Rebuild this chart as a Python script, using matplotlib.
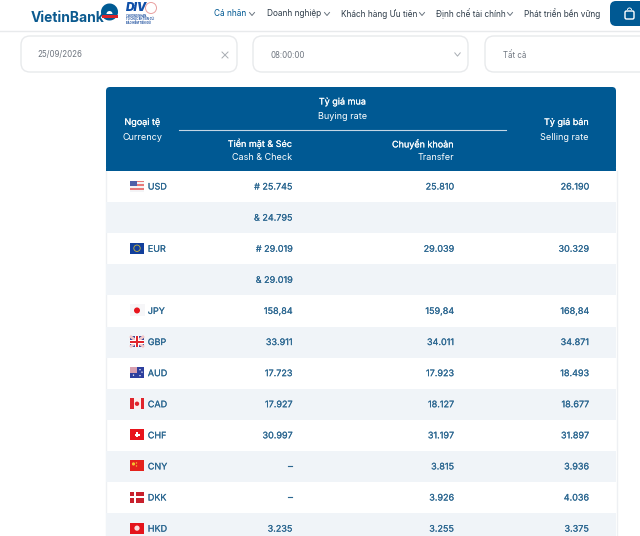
import matplotlib
matplotlib.use("Agg")
import matplotlib.pyplot as plt
import matplotlib.patheffects as pe
from matplotlib.patches import FancyBboxPatch, Rectangle, Circle, Wedge

plt.rcParams['font.family'] = ['Inter', 'DejaVu Sans']

# ---- data ----
currencies = ["USD", "", "EUR", "", "JPY", "GBP", "AUD", "CAD", "CHF", "CNY", "DKK", "HKD"]
cash_check = ["# 25.745", "& 24.795", "# 29.019", "& 29.019", "158,84", "33.911", "17.723",
              "17.927", "30.997", "–", "–", "3.235"]
transfer = ["25.810", "", "29.039", "", "159,84", "34.011", "17.923",
            "18.127", "31.197", "3.815", "3.926", "3.255"]
selling = ["26.190", "", "30.329", "", "168,84", "34.871", "18.493",
           "18.677", "31.897", "3.936", "4.036", "3.375"]
nav_items = ["Cá nhân", "Doanh nghiệp", "Khách hàng Ưu tiên", "Định chế tài chính", "Phát triển bền vững"]
nav_x = [214, 267, 341, 436, 524]
nav_chevron_x = [252, 327, 422, 510, None]
filters = ["25/09/2026", "08:00:00", "Tất cả"]

BLUE = "#005993"
TXT = "#2a6690"
ROW = "#f0f4f8"
GREY = "#6f7680"

fig = plt.figure(figsize=(6.4, 5.36), dpi=100)
ax = fig.add_axes([0, 0, 1, 1])
ax.set_xlim(0, 640)
ax.set_ylim(536, 0)
ax.axis("off")
fig.patch.set_facecolor("white")


def rrect(x, y, w, h, r, fc, ec="none", lw=1, z=1):
    p = FancyBboxPatch((x + r, y + r), w - 2 * r, h - 2 * r,
                       boxstyle=f"round,pad={r},rounding_size={r}",
                       fc=fc, ec=ec, lw=lw, zorder=z, mutation_aspect=1)
    ax.add_patch(p)


def chevron(x, y, s=3, c="#6a7580"):
    ax.plot([x - s, x, x + s], [y - s * 0.6, y + s * 0.6, y - s * 0.6], color=c, lw=0.7, zorder=5)


def heavy(t, col, w=0.1):
    t.set_path_effects([pe.withStroke(linewidth=w, foreground=col)])


# ---- nav ----
ax.plot([0, 640], [30.5, 30.5], color="#e8eaec", lw=1, zorder=1)
ax.text(31, 18.5, "VietinBank", fontsize=10, fontweight="bold", color="#0b5a8f",
        ha="left", va="center")
ax.add_patch(Wedge((109.5, 12), 8.5, 0, 360, fc="#005b94", zorder=3))
ax.add_patch(Rectangle((101.5, 14.5), 16, 3, fc="#d8232a", zorder=4))
ax.add_patch(Wedge((109.5, 14), 3, 180, 360, fc="white", zorder=4))
ax.text(126, 8, "DIV", fontsize=8.5, fontweight="black", style="italic", color="#0f4fa8", ha="left", va="center")
ax.add_patch(Circle((151, 8), 5.5, fc="none", ec="#e9a0a0", lw=0.7, zorder=3))
for yy, s in zip([16, 19, 22.5], ["CHƯƠNG NHẬN", "TỔ CHỨC BH TIỀN GỬI", "BẢO HIỂM TIỀN GỬI"]):
    ax.text(125.5, yy, s, fontsize=1.9, color="#1d4f9e", ha="left", va="center", fontweight="bold")

for i, (lbl, x) in enumerate(zip(nav_items, nav_x)):
    ax.text(x, 14, lbl, fontsize=5.95, color=BLUE if i == 0 else "#2f3d4a", ha="left", va="center")
    if nav_chevron_x[i]:
        chevron(nav_chevron_x[i], 14, 2.5)

rrect(610, 1, 40, 25, 6, BLUE, z=2)
rrect(625, 11, 9, 8, 1.5, "none", ec="white", lw=1, z=3)
ax.add_patch(Wedge((629.5, 10), 2.5, 180, 360, width=0.9, fc="white", zorder=3))

# ---- filters ----
boxes = [(21, 36, 216, 36), (253, 36, 215, 36), (485, 36, 170, 36)]
for (x, y, w, h) in boxes:
    rrect(x, y, w, h, 9, "white", ec="#e8eaec", lw=1, z=2)
ax.text(37.5, 55, filters[0], fontsize=5.7, color=GREY, ha="left", va="center", zorder=3)
ax.text(270.5, 55, filters[1], fontsize=5.7, color=GREY, ha="left", va="center", zorder=3)
ax.text(503, 55, filters[2], fontsize=5.7, color=GREY, ha="left", va="center", zorder=3)
ax.plot([222, 228], [52, 58], color="#a8adb3", lw=0.7, zorder=3)
ax.plot([222, 228], [58, 52], color="#a8adb3", lw=0.7, zorder=3)
chevron(457.5, 54.5, 2.7, "#a8adb3")

# ---- table header ----
rrect(106, 87, 510, 84, 4, BLUE, z=2)
ax.add_patch(Rectangle((106, 168), 510, 3, fc=BLUE, ec="none", zorder=2))
H = dict(color="white", va="center", zorder=5, fontsize=6.5)
for x, y, s, ha, strong in [
    (142.5, 122.5, "Ngoại tệ", "center", True),
    (142.5, 137, "Currency", "center", False),
    (342.5, 102, "Tỷ giá mua", "center", True),
    (342.5, 116.5, "Buying rate", "center", False),
    (292.5, 144, "Tiền mặt & Séc", "right", True),
    (292.5, 158, "Cash & Check", "right", False),
    (454, 144, "Chuyển khoản", "right", True),
    (454, 158, "Transfer", "right", False),
    (589, 122.5, "Tỷ giá bán", "right", True),
    (589, 137, "Selling rate", "right", False),
]:
    t = ax.text(x, y, s, ha=ha, **H)
    if strong:
        heavy(t, "white")
ax.plot([179, 506], [129.5, 129.5], color="#c4d7e6", lw=0.8, zorder=5)

# ---- rows ----
ax.plot([105.5, 105.5], [171, 536], color="#eef0f3", lw=1, zorder=1)
ax.plot([616.5, 616.5], [171, 536], color="#eef0f3", lw=1, zorder=1)
row_h = 31.1
top = 171


def flag(code, cy):
    x, y, w, h = 130, cy - 5.5, 14, 11
    R = lambda a, b, c, d, col: ax.add_patch(Rectangle((x + a, y + b), c, d, fc=col, ec="none", zorder=4))
    if code == "USD":
        R(0, 0, w, h, "#f4f4f6")
        for k in range(0, 6, 2):
            R(0, k * 1.85, w, 1.85, "#e87a7a")
        ax.add_patch(Rectangle((x, y), 6.5, 5.5, fc="#4f60a8", zorder=5))
    elif code == "EUR":
        R(0, 0, w, h, "#123f9c")
        ax.add_patch(Circle((x + 7, y + 5.5), 3.2, fc="none", ec="#c9b43c", lw=0.6, zorder=5))
    elif code == "JPY":
        R(-0.5, -0.5, 15, 12, "#f6f6f8")
        ax.add_patch(Circle((x + 7, y + 5.5), 3, fc="#e8141c", zorder=5))
    elif code == "GBP":
        R(0, 0, w, h, "#3a4a9a")
        ax.plot([x, x + w], [y, y + h], color="#f5c8c8", lw=2, zorder=5, solid_capstyle="butt")
        ax.plot([x, x + w], [y + h, y], color="#f5c8c8", lw=2, zorder=5, solid_capstyle="butt")
        ax.add_patch(Rectangle((x + 5, y), 4, h, fc="white", zorder=6))
        ax.add_patch(Rectangle((x, y + 3.5), w, 4, fc="white", zorder=6))
        ax.add_patch(Rectangle((x + 6, y), 2, h, fc="#e0262c", zorder=6))
        ax.add_patch(Rectangle((x, y + 4.5), w, 2, fc="#e0262c", zorder=6))
    elif code == "AUD":
        R(0, 0, w, h, "#2d3f9e")
        ax.add_patch(Rectangle((x, y), 7, 5.5, fc="#d8a0b0", zorder=5))
        for (a, b) in [(10, 2.5), (12, 5), (10, 8.5), (3.5, 8)]:
            ax.add_patch(Circle((x + a, y + b), 0.7, fc="white", zorder=5))
    elif code == "CAD":
        R(0, 0, w, h, "#fbeeee")
        ax.add_patch(Rectangle((x, y), 3.5, h, fc="#e0242c", zorder=5))
        ax.add_patch(Rectangle((x + 10.5, y), 3.5, h, fc="#e0242c", zorder=5))
        ax.add_patch(Circle((x + 7, y + 5.5), 2.2, fc="#e0242c", zorder=5))
    elif code == "CHF":
        R(0, 0, w, h, "#e8141c")
        ax.add_patch(Rectangle((x + 6, y + 3), 2, 5, fc="white", zorder=5))
        ax.add_patch(Rectangle((x + 4.5, y + 4.5), 5, 2, fc="white", zorder=5))
    elif code == "CNY":
        R(0, 0, w, h, "#e4221c")
        ax.add_patch(Circle((x + 3.5, y + 3.5), 1.6, fc="#f4c430", zorder=5))
        ax.add_patch(Circle((x + 6.5, y + 2.5), 0.7, fc="#f4c430", zorder=5))
        ax.add_patch(Circle((x + 6.5, y + 5.5), 0.7, fc="#f4c430", zorder=5))
    elif code == "DKK":
        R(0, 0, w, h, "#c8202c")
        ax.add_patch(Rectangle((x + 4, y), 2, h, fc="white", zorder=5))
        ax.add_patch(Rectangle((x, y + 4.5), w, 2, fc="white", zorder=5))
    elif code == "HKD":
        R(0, 0, w, h, "#e4141c")
        ax.add_patch(Circle((x + 7, y + 5.5), 2.6, fc="#fbdede", zorder=5))


for i, (c, a, b, s) in enumerate(zip(currencies, cash_check, transfer, selling)):
    y0 = top + i * row_h
    cy = y0 + row_h / 2
    if i in (1, 3, 5, 7, 9, 11):
        ax.add_patch(Rectangle((106, y0), 510, row_h, fc=ROW, ec="none", zorder=1))
    T = dict(fontsize=6.5, color=TXT, va="center", zorder=6)
    if c:
        flag(c, cy - 0.5)
        heavy(ax.text(147.8, cy + 0.5, c, ha="left", **T), TXT)
    heavy(ax.text(292.5, cy + 0.5, a, ha="right", **T), TXT)
    heavy(ax.text(454, cy + 0.5, b, ha="right", **T), TXT)
    heavy(ax.text(589, cy + 0.5, s, ha="right", **T), TXT)

fig.savefig("out.png", dpi=100)
